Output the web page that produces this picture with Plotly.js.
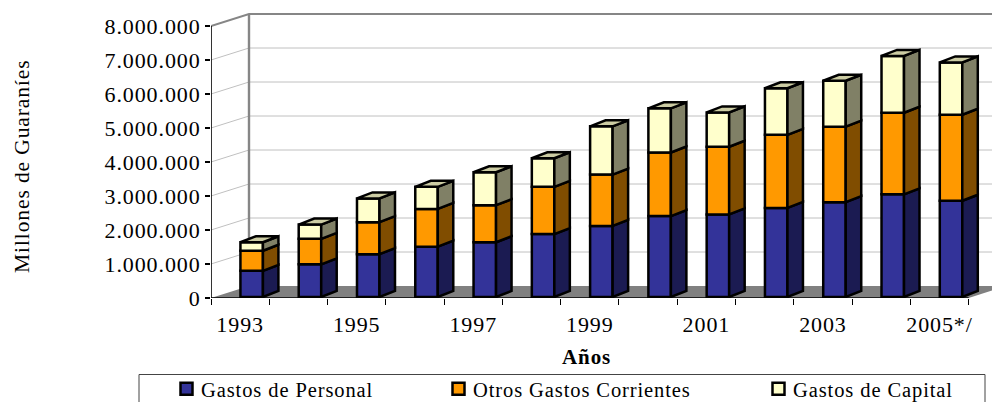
<!DOCTYPE html>
<html>
<head>
<meta charset="utf-8">
<script src="https://cdn.plot.ly/plotly-3.0.1.min.js"></script>
<style>
html,body{margin:0;padding:0;background:#fff;overflow:hidden}
svg text{letter-spacing:0.9px}
.legendsymbols{transform:translateX(5.5px)}
</style>
</head>
<body>
<div id="chart" style="width:992px;height:402px"></div>
<script>
var years = ['1993','1994','1995','1996','1997','1998','1999','2000','2001','2002','2003','2004','2005*/'];
var gastosPersonal = [770000,960000,1260000,1480000,1610000,1850000,2090000,2380000,2430000,2620000,2790000,3020000,2830000];
var otrosCorrientes = [590000,750000,940000,1110000,1090000,1390000,1510000,1870000,1990000,2150000,2220000,2400000,2530000];
var gastosCapital = [250000,420000,700000,650000,970000,840000,1420000,1300000,1010000,1370000,1350000,1670000,1540000];
var yTicks = [0,1000000,2000000,3000000,4000000,5000000,6000000,7000000,8000000];

// axis scale
var pxPerCat = 58.28, pxPerUnit = 34 / 1000000;
var left = 211, zeroY = 298, topY = 10;
var xMax = (992 - left) / pxPerCat, yMax = (zeroY - topY) / pxPerUnit;
// wall / bar depth projection
var wallDx = 38 / pxPerCat, wallDy = 12 / pxPerUnit;
var barDx = 15.5 / pxPerCat, barDy = 6 / pxPerUnit;
var barShift = 0.698, barWidth = 22.5 / pxPerCat, lift = 1 / pxPerUnit;
var nCat = years.length;

var seriesDefs = [
  {name:'Gastos de Personal', values:gastosPersonal, front:'#333399', side:'#1b1b52'},
  {name:'Otros Gastos Corrientes', values:otrosCorrientes, front:'#ff9900', side:'#804d00'},
  {name:'Gastos de Capital', values:gastosCapital, front:'#ffffcc', side:'#808066', top:'#cccca3'}
];

var traces = [], faces = [];
var cum = years.map(function(){return lift;});
seriesDefs.forEach(function(s, k){
  var base = cum.slice();
  var xs = years.map(function(_, i){return i + barShift;});
  traces.push({type:'bar', name:s.name, x:xs, y:s.values, base:base, width:barWidth,
    marker:{color:s.front, line:{color:'#000', width:2.5}}, hoverinfo:'skip',
    legend: k === 0 ? 'legend' : 'legend' + (k + 1)});
  var sx = [], sy = [], tx = [], ty = [];
  years.forEach(function(_, i){
    var r = xs[i] + barWidth / 2, l = xs[i] - barWidth / 2;
    var b = base[i], t = base[i] + s.values[i];
    sx.push(r, r + barDx, r + barDx, r, r, null);
    sy.push(b, b + barDy, t + barDy, t, b, null);
    tx.push(l, l + barDx, r + barDx, r, l, null);
    ty.push(t, t + barDy, t + barDy, t, t, null);
    cum[i] = t;
  });
  faces.push({type:'scatter', mode:'lines', x:sx, y:sy, fill:'toself', fillcolor:s.side,
    line:{color:'#000', width:2.5}, showlegend:false, hoverinfo:'skip', cliponaxis:false});
  if (s.top) faces.push({type:'scatter', mode:'lines', x:tx, y:ty, fill:'toself', fillcolor:s.top,
    line:{color:'#000', width:2.5}, showlegend:false, hoverinfo:'skip', cliponaxis:false});
});
// front axis lines
faces.push({type:'scatter', mode:'lines', x:[0,0,nCat], y:[yTicks[yTicks.length-1],0,0],
  line:{color:'#000', width:1.6}, showlegend:false, hoverinfo:'skip', cliponaxis:false});

var shapes = [];
// floor
shapes.push({type:'path', layer:'below', xref:'x', yref:'y',
  path:'M0,0 L'+wallDx+','+wallDy+' L'+(nCat+wallDx)+','+wallDy+' L'+nCat+',0 Z',
  fillcolor:'#808080', line:{width:0}});
// gridlines on side and back wall
yTicks.forEach(function(t, i){
  if (i === 0) return;
  var last = i === yTicks.length - 1;
  if (!last) {
    shapes.push({type:'path', layer:'below', xref:'x', yref:'y',
      path:'M0,'+t+' L'+wallDx+','+(t+wallDy)+' L'+xMax+','+(t+wallDy),
      line:{color:'#c0c0c0', width:1}});
  }
});
var topV = yTicks[yTicks.length-1];
shapes.push({type:'path', layer:'below', xref:'x', yref:'y',
  path:'M0,'+topV+' L'+wallDx+','+(topV+wallDy)+' L'+xMax+','+(topV+wallDy),
  line:{color:'#868686', width:2}});
shapes.push({type:'line', layer:'below', xref:'x', yref:'y',
  x0:wallDx, x1:wallDx, y0:wallDy, y1:topV+wallDy, line:{color:'#868686', width:2.4}});

var plotW = 992 - left, plotH = zeroY - topY;
function px(v){return (v - left) / plotW;}
function py(v){return (zeroY - v) / plotH;}
// legend frame
shapes.push({type:'rect', xref:'paper', yref:'paper', x0:px(139), x1:px(985), y0:py(374.5), y1:py(412),
  line:{color:'#444', width:1}, fillcolor:'rgba(0,0,0,0)'});

var serif = 'Liberation Serif, Times New Roman, serif';
function legendAt(xp){
  return {x:px(xp), xref:'paper', y:py(369), yref:'paper', xanchor:'left', yanchor:'top',
    orientation:'h', bgcolor:'rgba(0,0,0,0)', borderwidth:0, font:{family:serif, size:20.5, color:'#000'}};
}

var layout = {
  width:992, height:402,
  margin:{l:left, r:0, t:topY, b:402-zeroY, pad:0, autoexpand:false},
  paper_bgcolor:'#fff', plot_bgcolor:'#fff',
  barmode:'overlay', separators:',.',
  font:{family:serif, color:'#000', size:22},
  xaxis:{type:'linear', range:[0,xMax], showgrid:false, zeroline:false, showline:false,
    tickmode:'array',
    tickvals:years.map(function(_, i){return i + 0.5;}).filter(function(_, i){return i % 2 === 0;}),
    ticktext:years.filter(function(_, i){return i % 2 === 0;}),
    ticks:'', tickangle:0, tickfont:{family:serif, size:22, color:'#000'}, ticklabelstandoff:11,
    minor:{tickmode:'array', tickvals:years.map(function(_, i){return i;}).concat([nCat]),
      ticks:'outside', ticklen:6, tickwidth:1, tickcolor:'#000', showgrid:false}},
  yaxis:{range:[0,yMax], showgrid:false, zeroline:false, showline:false,
    tickmode:'array', tickvals:yTicks, tickformat:',d',
    ticks:'outside', ticklen:5, tickwidth:1.4, tickcolor:'#000',
    tickfont:{family:serif, size:22, color:'#000'}},
  shapes:shapes,
  legend:legendAt(161), legend2:legendAt(433), legend3:legendAt(753),
  showlegend:true,
  annotations:[
    {text:'Años', xref:'paper', yref:'paper', x:px(586), y:py(357), showarrow:false,
     xanchor:'center', yanchor:'middle', font:{family:serif, size:21, color:'#000', weight:'bold'}},
    {text:'Millones de Guaraníes', xref:'paper', yref:'paper', x:px(22), y:py(166), showarrow:false,
     textangle:-90, xanchor:'center', yanchor:'middle', font:{family:serif, size:21.5, color:'#000'}}
  ]
};
Plotly.newPlot('chart', traces.concat(faces), layout, {displayModeBar:false, staticPlot:true});
</script>
</body>
</html>
